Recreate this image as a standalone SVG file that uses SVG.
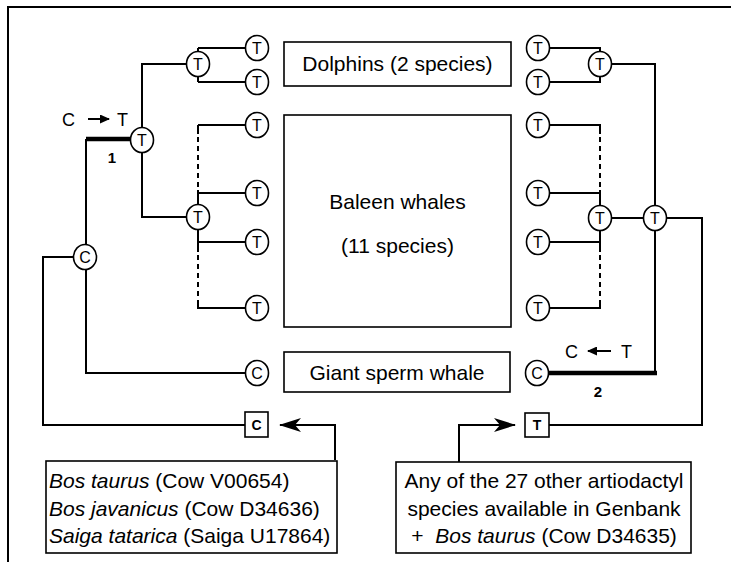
<svg xmlns="http://www.w3.org/2000/svg" width="731" height="562" viewBox="0 0 731 562">
<defs>
<style>
text{font-family:"Liberation Sans",Arial,Helvetica,sans-serif;fill:#000}
.ln{fill:none;stroke:#000;stroke-width:2}
.th{fill:none;stroke:#000;stroke-width:4.5}
.ds{fill:none;stroke:#000;stroke-width:2;stroke-dasharray:5,4}
.nd{fill:#fff;stroke:#000;stroke-width:1.6}
.nt{font-size:16px;text-anchor:middle}
.bx{fill:#fff;stroke:#000;stroke-width:1.6}
.lb{font-size:21px;text-anchor:middle}
.bl{font-size:21px}
.sq{font-size:14px;font-weight:bold;text-anchor:middle}
.mut{font-size:18px}
.num{font-size:15px;font-weight:bold;text-anchor:middle}
</style>
<marker id="ah" markerUnits="userSpaceOnUse" markerWidth="22" markerHeight="14" viewBox="0 0 22 14" refX="21" refY="7" orient="auto">
<path d="M0,0 L22,7 L0,14 L6,7 z" fill="#000"/>
</marker>
<marker id="sa" markerUnits="userSpaceOnUse" markerWidth="10" markerHeight="9" viewBox="0 0 10 9" refX="9" refY="4.5" orient="auto">
<path d="M0,0 L10,4.5 L0,9 z" fill="#000"/>
</marker>
</defs>
<rect x="0" y="0" width="731" height="562" fill="#fff"/>
<path class="ln" d="M8,562 V7 H731" stroke-width="1.6"/>

<g id="connectors">
<!-- left tree -->
<path class="ln" d="M43,425 V257 H74"/>
<path class="ln" d="M86,245 V139"/>
<path class="th" d="M86,139 H131"/>
<path class="ln" d="M86,269 V373 H246"/>
<path class="ln" d="M142,128 V64 H186"/>
<path class="ln" d="M142,152 V217 H186"/>
<path class="ln" d="M198,48 V82 M198,48 H246 M198,82 H246"/>
<path class="ln" d="M198,125 V134 M198,125 H246"/>
<path class="ds" d="M198,137 V188"/>
<path class="ln" d="M198,190 V252 M198,193 H246 M198,242 H246"/>
<path class="ds" d="M198,255 V300"/>
<path class="ln" d="M198,300 V308 H246"/>
<!-- left outgroup -->
<path class="ln" d="M43,424 V425 H245"/>
<!-- right tree -->
<path class="ln" d="M550,48 H600 V82 H550"/>
<path class="ln" d="M612,64 H655 V206"/>
<path class="ln" d="M655,230 V373"/>
<path class="th" d="M548,373 H657"/>
<path class="ln" d="M550,125 H600 V134"/>
<path class="ds" d="M600,137 V188"/>
<path class="ln" d="M600,190 V252 M550,193 H600 M550,242 H600"/>
<path class="ds" d="M600,255 V300"/>
<path class="ln" d="M600,300 V308 H550"/>
<path class="ln" d="M612,218 H643"/>
<path class="ln" d="M667,218 H702 V425 H549"/>
<!-- outgroup arrows -->
<path class="ln" d="M335,460 V425 H280" marker-end="url(#ah)"/>
<path class="ln" d="M459,462 V425 H515" marker-end="url(#ah)"/>
</g>

<g id="box-dolphins">
<rect class="bx" x="284" y="42" width="227" height="44"/>
<text class="lb" x="397.5" y="71">Dolphins (2 species)</text>
</g>
<g id="box-baleen">
<rect class="bx" x="284" y="115" width="227" height="212"/>
<text class="lb" x="397.5" y="209">Baleen whales</text>
<text class="lb" x="397.5" y="253">(11 species)</text>
</g>
<g id="box-sperm">
<rect class="bx" x="284" y="352" width="226" height="40"/>
<text class="lb" x="397" y="380">Giant sperm whale</text>
</g>

<g id="left-nodes">
<g id="l-root"><ellipse class="nd" cx="85" cy="257" rx="11.5" ry="12.5"/><text class="nt" x="85" y="263">C</text></g>
<g id="l-whippo"><ellipse class="nd" cx="142" cy="140" rx="11.5" ry="12.5"/><text class="nt" x="142" y="146">T</text></g>
<g id="l-dol"><ellipse class="nd" cx="198" cy="64" rx="11.5" ry="12.5"/><text class="nt" x="198" y="70">T</text></g>
<g id="l-bal"><ellipse class="nd" cx="198" cy="217" rx="11.5" ry="12.5"/><text class="nt" x="198" y="223">T</text></g>
<g id="l-d1"><ellipse class="nd" cx="257" cy="48" rx="11.5" ry="12.5"/><text class="nt" x="257" y="54">T</text></g>
<g id="l-d2"><ellipse class="nd" cx="257" cy="82" rx="11.5" ry="12.5"/><text class="nt" x="257" y="88">T</text></g>
<g id="l-b1"><ellipse class="nd" cx="257" cy="125" rx="11.5" ry="12.5"/><text class="nt" x="257" y="131">T</text></g>
<g id="l-b2"><ellipse class="nd" cx="257" cy="193" rx="11.5" ry="12.5"/><text class="nt" x="257" y="199">T</text></g>
<g id="l-b3"><ellipse class="nd" cx="257" cy="242" rx="11.5" ry="12.5"/><text class="nt" x="257" y="248">T</text></g>
<g id="l-b4"><ellipse class="nd" cx="257" cy="308" rx="11.5" ry="12.5"/><text class="nt" x="257" y="314">T</text></g>
<g id="l-sperm"><ellipse class="nd" cx="257" cy="373" rx="11.5" ry="12.5"/><text class="nt" x="257" y="379">C</text></g>
<g id="l-out"><rect class="bx" x="245" y="412" width="23" height="25"/><text class="sq" x="256.5" y="430">C</text></g>
</g>

<g id="right-nodes">
<g id="r-d1"><ellipse class="nd" cx="538" cy="48" rx="11.5" ry="12.5"/><text class="nt" x="538" y="54">T</text></g>
<g id="r-d2"><ellipse class="nd" cx="538" cy="82" rx="11.5" ry="12.5"/><text class="nt" x="538" y="88">T</text></g>
<g id="r-dol"><ellipse class="nd" cx="600" cy="64" rx="11.5" ry="12.5"/><text class="nt" x="600" y="70">T</text></g>
<g id="r-b1"><ellipse class="nd" cx="538" cy="125" rx="11.5" ry="12.5"/><text class="nt" x="538" y="131">T</text></g>
<g id="r-b2"><ellipse class="nd" cx="538" cy="193" rx="11.5" ry="12.5"/><text class="nt" x="538" y="199">T</text></g>
<g id="r-b3"><ellipse class="nd" cx="538" cy="242" rx="11.5" ry="12.5"/><text class="nt" x="538" y="248">T</text></g>
<g id="r-b4"><ellipse class="nd" cx="538" cy="308" rx="11.5" ry="12.5"/><text class="nt" x="538" y="314">T</text></g>
<g id="r-bal"><ellipse class="nd" cx="600" cy="218" rx="11.5" ry="12.5"/><text class="nt" x="600" y="224">T</text></g>
<g id="r-root"><ellipse class="nd" cx="655" cy="218" rx="11.5" ry="12.5"/><text class="nt" x="655" y="224">T</text></g>
<g id="r-sperm"><ellipse class="nd" cx="537" cy="373" rx="11.5" ry="12.5"/><text class="nt" x="537" y="379">C</text></g>
<g id="r-out"><rect class="bx" x="525" y="413" width="24" height="24"/><text class="sq" x="537" y="430">T</text></g>
</g>

<g id="mutation-1">
<text class="mut" x="62" y="126">C</text>
<line class="ln" x1="88" y1="119" x2="109" y2="119" stroke-width="2.5" marker-end="url(#sa)"/>
<text class="mut" x="117" y="126">T</text>
<text class="num" x="112" y="163">1</text>
</g>
<g id="mutation-2">
<text class="mut" x="565" y="358">C</text>
<line class="ln" x1="611" y1="351" x2="588" y2="351" stroke-width="2.5" marker-end="url(#sa)"/>
<text class="mut" x="621" y="358">T</text>
<text class="num" x="598" y="397">2</text>
</g>

<g id="box-cow">
<rect class="bx" x="46" y="461" width="291" height="92"/>
<text class="bl" x="49" y="488"><tspan font-style="italic">Bos taurus</tspan> (Cow V00654)</text>
<text class="bl" x="49" y="516"><tspan font-style="italic">Bos javanicus</tspan> (Cow D34636)</text>
<text class="bl" x="49" y="543"><tspan font-style="italic">Saiga tatarica</tspan> (Saiga U17864)</text>
</g>
<g id="box-other">
<rect class="bx" x="396" y="462" width="295" height="91"/>
<text class="lb" x="544" y="488">Any of the 27 other artiodactyl</text>
<text class="lb" x="544" y="516">species available in Genbank</text>
<text class="lb" x="544" y="543">+ <tspan dx="6" font-style="italic">Bos taurus</tspan> (Cow D34635)</text>
</g>
</svg>
